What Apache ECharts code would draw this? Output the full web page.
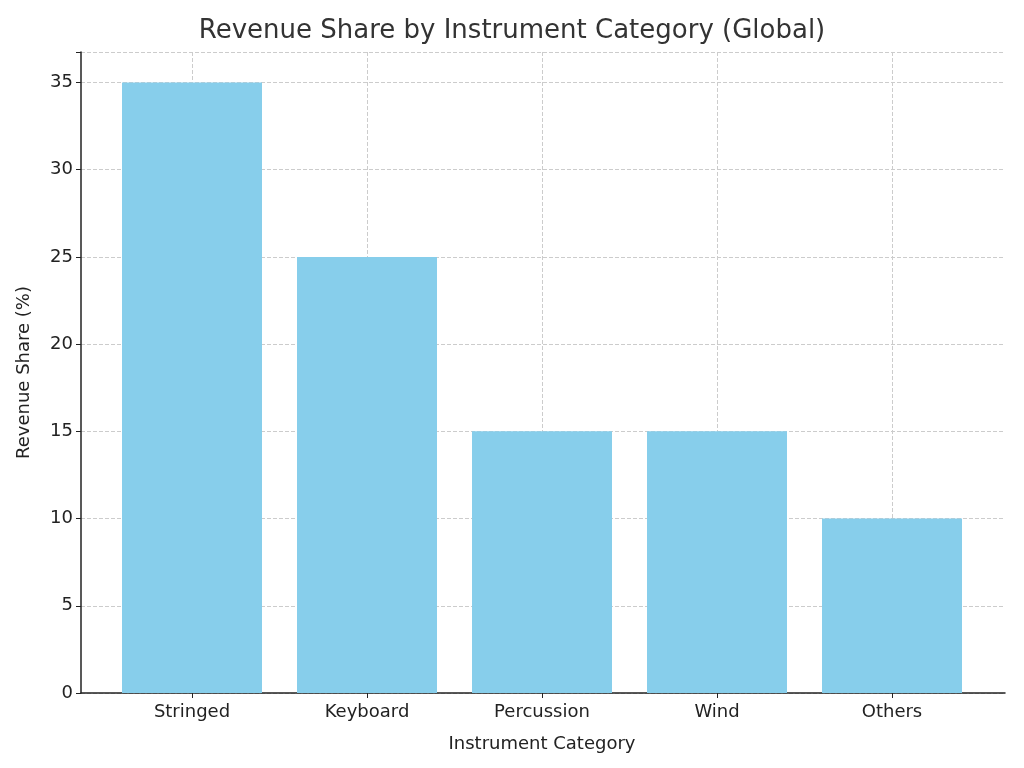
<!DOCTYPE html>
<html><head><meta charset="utf-8">
<script src="https://cdn.jsdelivr.net/npm/echarts@6/dist/echarts.min.js"></script>
<style>html,body{margin:0;padding:0;background:#fff}#c{width:1024px;height:768px}</style>
</head><body><div id="c"></div>
<script>
const categories = ["Stringed", "Keyboard", "Percussion", "Wind", "Others"];
const revenueShare = [35, 25, 15, 15, 10];
const yTicks = [0, 5, 10, 15, 20, 25, 30, 35];

const font = "DejaVu Sans";
const chart = echarts.init(document.getElementById('c'));
chart.setOption({
  backgroundColor: '#fff',
  animation: false,
  textStyle: { fontFamily: font },
  title: { text: 'Revenue Share by Instrument Category (Global)', left: 'center', top: 13,
    textStyle: { fontFamily: font, fontSize: 26, fontWeight: 'normal', color: '#333' } },
  grid: [
    { left: 81, right: 19, top: 52, bottom: 75 },
    { left: 192, right: 132, top: 52, bottom: 75 }
  ],
  xAxis: [
    { type: 'value', gridIndex: 0, min: 0, max: 1, axisLine: { show: true, onZero: false, lineStyle: { color: '#222', width: 1.5 } },
      axisTick: { show: false }, axisLabel: { show: false }, splitLine: { show: false } },
    { type: 'category', gridIndex: 1, data: categories, boundaryGap: false,
      axisLine: { show: false }, axisTick: { show: true, length: 5, lineStyle: { color: '#222' } },
      axisLabel: { fontSize: 18, color: '#222', margin: 10, fontFamily: font },
      splitLine: { show: true, lineStyle: { type: 'dashed', color: '#ccc' } },
      name: 'Instrument Category', nameLocation: 'middle', nameGap: 42,
      nameTextStyle: { fontSize: 18, color: '#222', fontFamily: font } }
  ],
  yAxis: [
    { type: 'value', gridIndex: 0, min: 0, max: 36.75, interval: 5,
      axisLine: { show: true, lineStyle: { color: '#222', width: 1.5 } },
      axisTick: { show: true, length: 5, lineStyle: { color: '#222' } },
      axisLabel: { fontSize: 18, color: '#222', margin: 8, fontFamily: font,
        formatter: v => yTicks.includes(v) ? String(v) : '' },
      splitLine: { show: true, lineStyle: { type: 'dashed', color: '#ccc' } },
      name: 'Revenue Share (%)', nameLocation: 'middle', nameGap: 48, nameRotate: 90,
      nameTextStyle: { fontSize: 18, color: '#222', fontFamily: font } },
    { type: 'value', gridIndex: 1, min: 0, max: 36.75, show: false, splitLine: { show: false } }
  ],
  series: [{
    type: 'bar', xAxisIndex: 1, yAxisIndex: 1, data: revenueShare, barWidth: 140, clip: false,
    itemStyle: { color: '#87CEEB' }, z: 1
  }]
});
</script></body></html>
